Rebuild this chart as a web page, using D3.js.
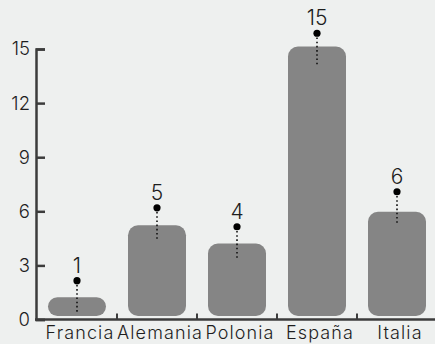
<!DOCTYPE html>
<html>
<head>
<meta charset="utf-8">
<script src="https://cdn.jsdelivr.net/npm/d3@7"></script>
<style>
  html, body { margin: 0; padding: 0; background: #eef0ef; }
  svg { display: block; }
  text { font-family: Inter, "Open Sans", sans-serif; font-weight: 300; fill: #1e1e1e; }
</style>
</head>
<body>
<svg id="chart" width="435" height="344"></svg>
<script>
const categories = ["Francia", "Alemania", "Polonia", "España", "Italia"];
const barValues = [1.04, 5.03, 4.02, 14.94, 5.78];
const markerValues = [1.96, 6.0, 4.95, 15.68, 6.89];
const valueLabels = ["1", "5", "4", "15", "6"];
const yTicks = [0, 3, 6, 9, 12, 15];

const W = 435, H = 344;
const svg = d3.select("#chart");
svg.append("rect").attr("width", W).attr("height", H).attr("fill", "#eef0ef");

const x = d3.scaleBand().domain(categories).range([37, 437])
  .paddingInner(0.275).paddingOuter(0.1375);
const y = d3.scaleLinear().domain([0, 15]).range([319.5, 49]);

const axisColor = "#3c3c3c";

// Bars group (slightly lifted above baseline)
const g = svg.append("g").attr("transform", "translate(0,-3.5)");

g.selectAll("rect.bar").data(categories).join("rect")
  .attr("class", "bar")
  .attr("x", d => x(d))
  .attr("width", x.bandwidth())
  .attr("y", (d, i) => y(barValues[i]))
  .attr("height", (d, i) => y(0) - y(barValues[i]))
  .attr("rx", (d, i) => Math.min(10, (y(0) - y(barValues[i])) / 2))
  .attr("fill", "#858585");

g.selectAll("line.stem").data(categories).join("line")
  .attr("class", "stem")
  .attr("x1", d => x(d) + x.bandwidth() / 2)
  .attr("x2", d => x(d) + x.bandwidth() / 2)
  .attr("y1", (d, i) => y(markerValues[i]))
  .attr("y2", (d, i) => y(markerValues[i]) + 32)
  .attr("stroke", "#111")
  .attr("stroke-width", 1.6)
  .attr("stroke-dasharray", "1.6,2.6");

g.selectAll("circle.dot").data(categories).join("circle")
  .attr("class", "dot")
  .attr("cx", d => x(d) + x.bandwidth() / 2)
  .attr("cy", (d, i) => y(markerValues[i]))
  .attr("r", 3.6)
  .attr("fill", "#000");

g.selectAll("text.val").data(categories).join("text")
  .attr("class", "val")
  .attr("x", d => x(d) + x.bandwidth() / 2)
  .attr("y", (d, i) => y(markerValues[i]) - 8)
  .attr("text-anchor", "middle")
  .attr("font-size", 21)
  .text((d, i) => valueLabels[i]);

// Y axis
const yAxis = svg.append("g").attr("transform", "translate(36,0)")
  .call(d3.axisLeft(y).tickValues(yTicks).tickSize(-9).tickSizeOuter(-9).tickPadding(6));
yAxis.select(".domain").attr("stroke", axisColor).attr("stroke-width", 2.5);
yAxis.selectAll(".tick line").attr("stroke", axisColor).attr("stroke-width", 2.5);
yAxis.selectAll(".tick text").attr("font-size", 18.5).attr("font-family", null).attr("fill", "#1e1e1e");

// X axis
const xAxis = svg.append("g").attr("transform", `translate(0,${y(0)})`)
  .call(d3.axisBottom(x).tickSize(0).tickSizeOuter(0).tickPadding(7));
xAxis.select(".domain").attr("stroke", axisColor).attr("stroke-width", 2.5)
  .attr("d", `M35,0H${W}`);
xAxis.selectAll(".tick text").attr("font-size", 18).attr("font-family", null)
  .attr("fill", "#1e1e1e").attr("dx", 3).attr("letter-spacing", 1.1);

// boundary ticks between bands
const bounds = categories.slice(1).map(d => x(d) - x.step() * x.paddingInner() / 2);
xAxis.selectAll("line.bound").data(bounds).join("line")
  .attr("class", "bound")
  .attr("x1", d => d).attr("x2", d => d)
  .attr("y1", 0).attr("y2", -6)
  .attr("stroke", axisColor).attr("stroke-width", 2);
</script>
</body>
</html>
